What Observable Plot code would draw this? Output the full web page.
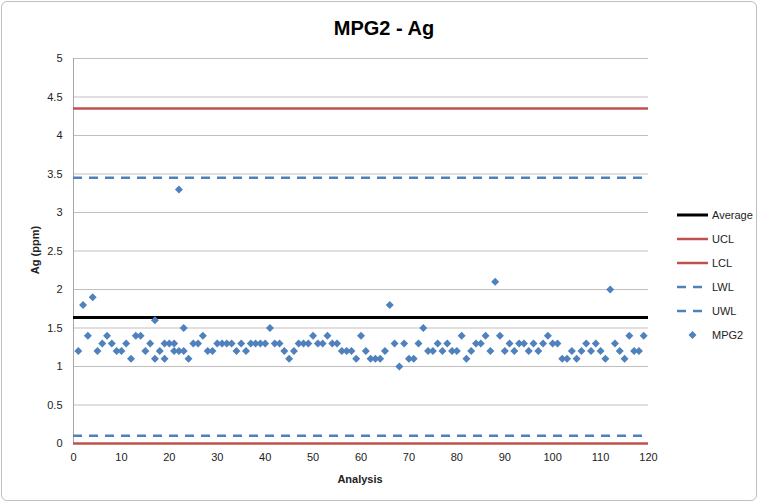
<!DOCTYPE html>
<html>
<head>
<meta charset="utf-8">
<script src="https://cdn.jsdelivr.net/npm/d3@7"></script>
<script src="https://cdn.jsdelivr.net/npm/@observablehq/plot@0.6"></script>
<style>
  html, body { margin: 0; padding: 0; background: #fff; }
  #chart { position: relative; width: 758px; height: 502px; font-family: "Liberation Sans", Arial, sans-serif; }
  #frame { position: absolute; left: 1px; top: 1px; width: 754px; height: 498px; border: 1px solid #bfbfbf; border-radius: 6px; pointer-events: none; }
  #title { position: absolute; left: 5px; width: 758px; top: 17px; text-align: center; font-weight: bold; font-size: 20px; color: #000; }
  #ylabel { position: absolute; left: 35px; top: 250px; transform: translate(-50%, -50%) rotate(-90deg); font-size: 11px; font-weight: bold; color: #222; white-space: nowrap; }
  #xlabel { position: absolute; left: 360px; top: 479px; transform: translate(-50%, -50%); font-size: 11px; font-weight: bold; color: #222; }
  #legend { position: absolute; left: 676px; top: 203px; font-size: 11px; color: #222; }
  .item { display: flex; align-items: center; height: 24px; }
  .item svg { margin-right: 3px; }
</style>
</head>
<body>
<div id="chart">
  <div id="plot"></div>
  <div id="title">MPG2 - Ag</div>
  <div id="ylabel">Ag (ppm)</div>
  <div id="xlabel">Analysis</div>
  <div id="legend"></div>
  <div id="frame"></div>
</div>
<script>
// ---- data ----
const analysis = [
  1,2,3,4,5,6,7,8,9,10,
  11,12,13,14,15,16,17,18,19,20,
  21,22,23,24,25,26,27,28,29,30,
  31,32,33,34,35,36,37,38,39,40,
  41,42,43,44,45,46,47,48,49,50,
  51,52,53,54,55,56,57,58,59,60,
  61,62,63,64,65,66,67,68,69,70,
  71,72,73,74,75,76,77,78,79,80,
  81,82,83,84,85,86,87,88,89,90,
  91,92,93,94,95,96,97,98,99,100,
  101,102,103,104,105,106,107,108,109,110,
  111,112,113,114,115,116,117,118,119,
  17,19,21,22,23
];
const mpg2 = [
  1.2,1.8,1.4,1.9,1.2,1.3,1.4,1.3,1.2,1.2,
  1.3,1.1,1.4,1.4,1.2,1.3,1.6,1.2,1.3,1.3,
  1.3,3.3,1.5,1.1,1.3,1.3,1.4,1.2,1.2,1.3,
  1.3,1.3,1.3,1.2,1.3,1.2,1.3,1.3,1.3,1.3,
  1.5,1.3,1.3,1.2,1.1,1.2,1.3,1.3,1.3,1.4,
  1.3,1.3,1.4,1.3,1.3,1.2,1.2,1.2,1.1,1.4,
  1.2,1.1,1.1,1.1,1.2,1.8,1.3,1.0,1.3,1.1,
  1.1,1.3,1.5,1.2,1.2,1.3,1.2,1.3,1.2,1.2,
  1.4,1.1,1.2,1.3,1.3,1.4,1.2,2.1,1.4,1.2,
  1.3,1.2,1.3,1.3,1.2,1.3,1.2,1.3,1.4,1.3,
  1.3,1.1,1.1,1.2,1.1,1.2,1.3,1.2,1.3,1.2,
  1.1,2.0,1.3,1.2,1.1,1.4,1.2,1.2,1.4,
  1.1,1.1,1.2,1.2,1.2
];
const limitNames  = ["Average", "UCL", "LCL", "LWL", "UWL"];
const limitValues = [1.635, 4.35, 0.0, 0.1, 3.45];
const xTicks = [0,10,20,30,40,50,60,70,80,90,100,110,120];
const yTicks = [0,0.5,1,1.5,2,2.5,3,3.5,4,4.5,5];

// ---- styles ----
const styles = {
  Average: {stroke: "#000000", strokeWidth: 3, dash: null},
  UCL:     {stroke: "#C0504D", strokeWidth: 2.5, dash: null},
  LCL:     {stroke: "#C0504D", strokeWidth: 2.5, dash: null},
  LWL:     {stroke: "#4F81BD", strokeWidth: 2.5, dash: "9,7"},
  UWL:     {stroke: "#4F81BD", strokeWidth: 2.5, dash: "9,7"}
};
const pointColor = "#4F81BD";

const points = analysis.map((a, i) => ({a, v: mpg2[i]}));
const limits = limitNames.map((n, i) => ({n, v: limitValues[i]}));

const plot = Plot.plot({
  width: 758,
  height: 502,
  marginLeft: 73,
  marginRight: 110,
  marginTop: 58,
  marginBottom: 59,
  style: {fontFamily: "Liberation Sans, Arial, sans-serif", fontSize: "11px", color: "#222", background: "transparent"},
  x: {domain: [0, 120]},
  y: {domain: [0, 5]},
  marks: [
    Plot.gridY(yTicks, {stroke: "#bfbfbf", strokeOpacity: 1, strokeWidth: 1}),
    Plot.ruleX([0], {stroke: "#a6a6a6", strokeWidth: 1}),
    Plot.axisY({ticks: yTicks, tickSize: 0, tickPadding: 11, tickFormat: d => String(d), label: null}),
    Plot.axisX({ticks: xTicks, tickSize: 0, tickPadding: 10, tickFormat: d => String(d), label: null}),
    ...["UWL", "LWL", "UCL", "LCL", "Average"].map(n =>
      Plot.ruleY(limits.filter(d => d.n === n), {
        y: "v",
        stroke: styles[n].stroke,
        strokeWidth: styles[n].strokeWidth,
        strokeDasharray: styles[n].dash
      })
    ),
    Plot.dot(points, {x: "a", y: "v", symbol: "diamond2", r: 3.6, fill: pointColor, stroke: "none"})
  ]
});
document.getElementById("plot").appendChild(plot);

// ---- legend ----
const legend = d3.select("#legend");
limitNames.forEach(n => {
  const s = styles[n];
  const it = legend.append("div").attr("class", "item");
  const svg = it.append("svg").attr("width", 33).attr("height", 10);
  svg.append("line").attr("x1", 1).attr("x2", 32).attr("y1", 5).attr("y2", 5)
    .attr("stroke", s.stroke).attr("stroke-width", s.strokeWidth)
    .attr("stroke-dasharray", s.dash ? "9,7" : null);
  it.append("span").text(n);
});
{
  const it = legend.append("div").attr("class", "item");
  const svg = it.append("svg").attr("width", 33).attr("height", 10);
  svg.append("path").attr("d", d3.symbol(d3.symbolDiamond2, 40)()).attr("transform", "translate(16.5,5)").attr("fill", pointColor);
  it.append("span").text("MPG2");
}
</script>
</body>
</html>
